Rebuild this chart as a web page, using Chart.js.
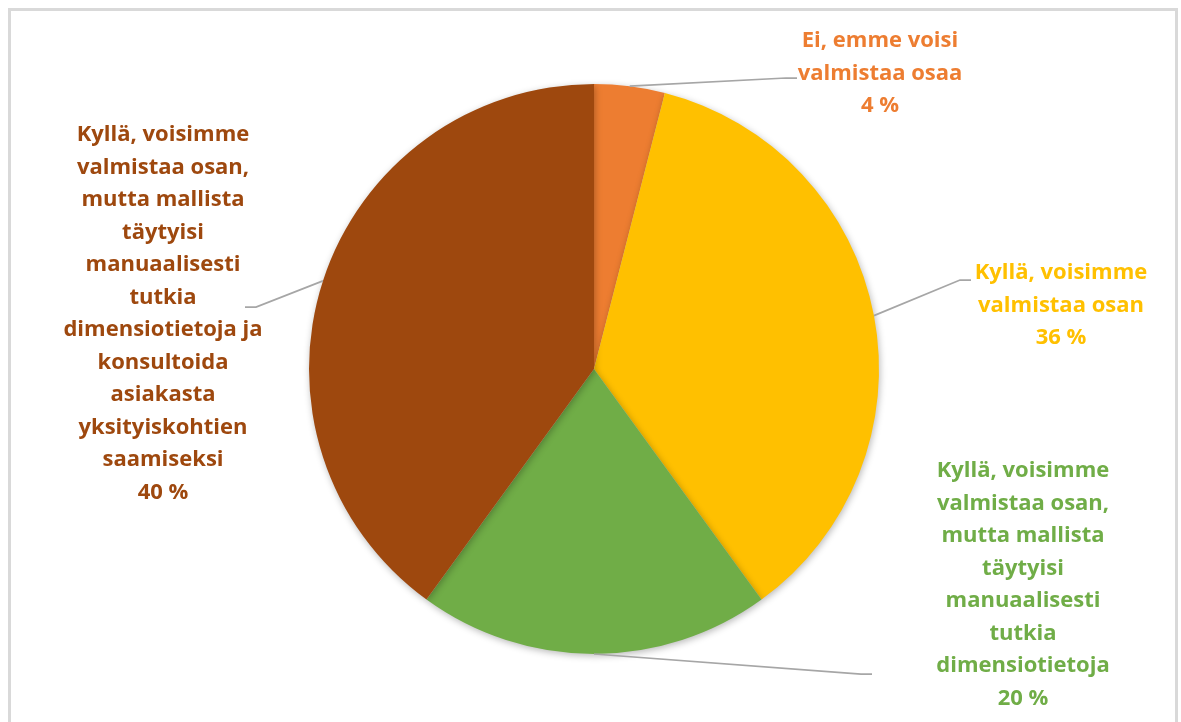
<!DOCTYPE html>
<html>
<head>
<meta charset="utf-8">
<script src="https://cdn.jsdelivr.net/npm/chart.js@4.4.0/dist/chart.umd.min.js"></script>
<style>
  html, body { margin: 0; padding: 0; background: #fff; }
  #wrap { position: relative; width: 1181px; height: 722px; overflow: hidden; }
  #frame { position: absolute; left: 8px; top: 8px; width: 1164px; height: 730px; border: 3px solid #d9d9d9; }
  canvas { position: absolute; left: 0; top: 0; }
</style>
</head>
<body>
<div id="wrap">
  <div id="frame"></div>
  <canvas id="canvas" width="1181" height="722"></canvas>
</div>
<script>
const categories = [
  ['Ei, emme voisi', 'valmistaa osaa'],
  ['Kyllä, voisimme', 'valmistaa osan'],
  ['Kyllä, voisimme', 'valmistaa osan,', 'mutta mallista', 'täytyisi', 'manuaalisesti', 'tutkia', 'dimensiotietoja'],
  ['Kyllä, voisimme', 'valmistaa osan,', 'mutta mallista', 'täytyisi', 'manuaalisesti', 'tutkia', 'dimensiotietoja ja', 'konsultoida', 'asiakasta', 'yksityiskohtien', 'saamiseksi'],
];
const values = [4, 36, 20, 40];
const colors = ['#ED7D31', '#FFC000', '#70AD47', '#9E480E'];

// label placement: text centre x, first line y, elbow x (end of leader)
const labelPos = [
  { x: 880, y: 41, ex: 797, ey: 78 },
  { x: 1061, y: 273, ex: 971, ey: 280 },
  { x: 1023, y: 471, ex: 872, ey: 674 },
  { x: 163, y: 135, ex: 245, ey: 307 },
];
const lineH = 32.5;

const ctx = document.getElementById('canvas');

const shadowPlugin = {
  id: 'pieShadow',
  beforeDatasetsDraw(chart) {
    const c = chart.ctx;
    c.save();
    c.shadowColor = 'rgba(0,0,0,0.28)';
    c.shadowBlur = 7;
    c.shadowOffsetX = 1;
    c.shadowOffsetY = 2;
  },
  afterDatasetsDraw(chart) {
    chart.ctx.restore();
  },
};

const labelPlugin = {
  id: 'outLabels',
  afterDraw(chart) {
    const c = chart.ctx;
    const meta = chart.getDatasetMeta(0);
    meta.data.forEach((arc, i) => {
      const p = labelPos[i];
      const mid = (arc.startAngle + arc.endAngle) / 2;
      const sx = arc.x + Math.cos(mid) * arc.outerRadius;
      const sy = arc.y + Math.sin(mid) * arc.outerRadius;
      const dir = p.ex > sx ? 1 : -1;
      c.save();
      c.strokeStyle = '#a6a6a6';
      c.lineWidth = 1.75;
      c.beginPath();
      c.moveTo(sx, sy);
      c.lineTo(p.ex - dir * 11, p.ey);
      c.lineTo(p.ex, p.ey);
      c.stroke();

      c.fillStyle = colors[i];
      c.font = 'bold 22px "Open Sans"';
      c.textAlign = 'center';
      c.textBaseline = 'middle';
      const lines = categories[i].concat([values[i] + ' %']);
      lines.forEach((t, k) => c.fillText(t, p.x, p.y + k * lineH));
      c.restore();
    });
  },
};

new Chart(ctx, {
  type: 'pie',
  data: {
    labels: categories.map((l) => l.join(' ')),
    datasets: [
      {
        data: values,
        backgroundColor: colors,
        borderWidth: 0,
      },
    ],
  },
  options: {
    responsive: false,
    animation: false,
    layout: {
      padding: { left: 7, right: 0, top: 84, bottom: 68 },
    },
    plugins: {
      legend: { display: false },
      tooltip: { enabled: false },
    },
  },
  plugins: [shadowPlugin, labelPlugin],
});
</script>
</body>
</html>
